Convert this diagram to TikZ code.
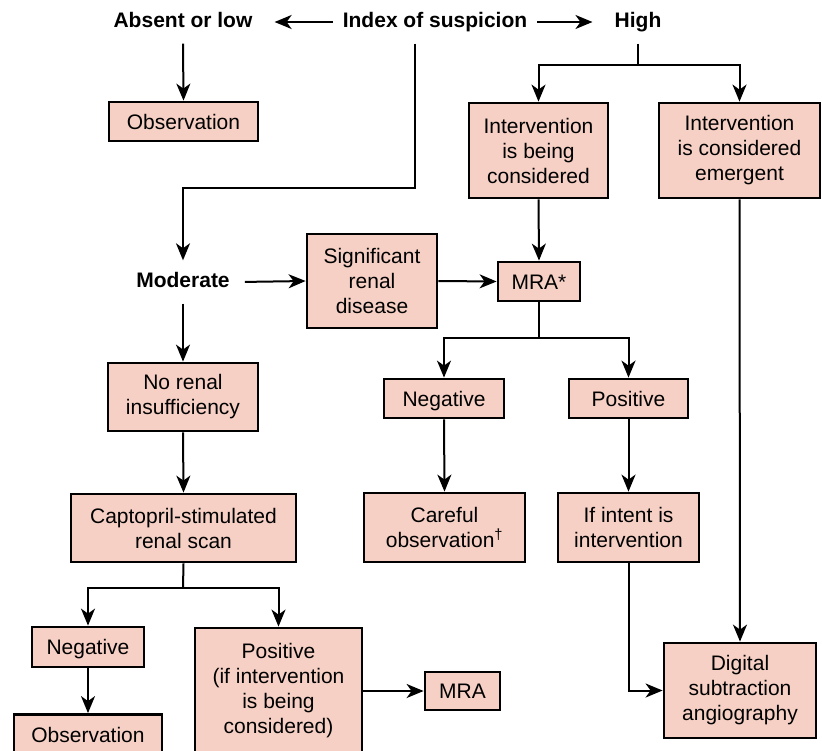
\documentclass[tikz,border=0pt]{standalone}
\usepackage{fontspec}
\setmainfont{Liberation Sans}
\usetikzlibrary{arrows.meta}
\definecolor{boxpink}{RGB}{246,208,196}

\begin{document}
\begin{tikzpicture}[
    x=1pt, y=-1pt,
    every node/.style={font=\fontsize{21}{25}\selectfont},
    box/.style={draw, line width=2.8pt, fill=boxpink, align=center, inner sep=0pt},
    oneline/.style={text height=15pt, text depth=0pt},
    lbl/.style={font=\fontsize{21}{25}\selectfont\bfseries,
        inner xsep=10pt, inner ysep=12pt, text height=15pt, text depth=4pt},
    link/.style={line width=2pt},
    arrow/.style={line width=2pt, -{Stealth[length=17pt,width=14pt,inset=5pt]}}
]

    \useasboundingbox (0,0) rectangle (822,750);

    % Index of suspicion
    \node[lbl] (index) at (435,22) {Index of suspicion};
    \node[lbl] (absent) at (183,22) {Absent or low};
    \node[lbl] (high) at (638,22) {High};
    \node[lbl] (moderate) at (183,282) {Moderate};

    % Absent or low
    \node[box, oneline, minimum width=149, minimum height=39] (obsA) at (183.5,121.5)
        {Observation};

    % High
    \node[box, minimum width=139, minimum height=95] (consid) at (538.5,150.5)
        {Intervention\\is being\\considered};
    \node[box, minimum width=161, minimum height=95] (emerg) at (739.5,150.5)
        {Intervention\\is considered\\emergent};

    % Moderate
    \node[box, minimum width=130, minimum height=94] (signif) at (372,281)
        {Significant\\renal\\disease};
    \node[box, oneline, minimum width=82, minimum height=39] (mraA) at (539,281.5)
        {MRA*};
    \node[box, oneline, minimum width=120, minimum height=39] (negA) at (444,398.5)
        {Negative};
    \node[box, oneline, minimum width=119, minimum height=39] (posA) at (628.5,398.5)
        {Positive};
    \node[box, minimum width=161, minimum height=69] (careful) at (444.5,527.5)
        {Careful\\observation\textsuperscript{\textdagger}};
    \node[box, minimum width=141, minimum height=69] (intent) at (628.5,527.5)
        {If intent is\\intervention};
    \node[box, minimum width=152, minimum height=95] (dsa) at (740,690.5)
        {Digital\\subtraction\\angiography};

    % No renal insufficiency
    \node[box, minimum width=150, minimum height=68] (norenal) at (183,397)
        {No renal\\insufficiency};
    \node[box, minimum width=225, minimum height=68] (scan) at (183.5,528)
        {Captopril-stimulated\\renal scan};
    \node[box, oneline, minimum width=112, minimum height=40] (negB) at (88,647)
        {Negative};
    \node[box, oneline, minimum width=148, minimum height=40] (obsB) at (88,734.5)
        {Observation};
    \node[box, minimum width=167, minimum height=126] (posB) at (278.5,691)
        {Positive\\(if intervention\\is being\\considered)};
    \node[box, oneline, minimum width=75, minimum height=38] (mraB) at (462.5,691)
        {MRA};

    % split points
    \coordinate (bend) at (415,188);
    \coordinate (hsplit) at (638,65);
    \coordinate (msplit) at (539,338);
    \coordinate (ssplit) at (183,588);

    % arrows from the index
    \draw[arrow, shorten >=12pt] (index.west) -- (absent.east);
    \draw[arrow, shorten >=12pt] (index.east) -- (high.west);
    \draw[arrow] (absent.south) -- (obsA.north);
    \draw[arrow] (index.south -| bend) -- (bend) -| (moderate.north);
    \draw[link] (high.south) -- (hsplit);
    \draw[arrow] (hsplit) -| (consid.north);
    \draw[arrow] (hsplit) -| (emerg.north);

    % right branch
    \draw[arrow] (consid.south) -- (mraA.north);
    \draw[arrow] (emerg.south) -- (dsa.north);
    \draw[arrow, shorten <=5pt] (moderate.east) -- (signif.west);
    \draw[arrow] (signif.east) -- (mraA.west);
    \draw[link] (mraA.south) -- (msplit);
    \draw[arrow] (msplit) -| (negA.north);
    \draw[arrow] (msplit) -| (posA.north);
    \draw[arrow] (negA.south) -- (careful.north);
    \draw[arrow] (posA.south) -- (intent.north);
    \draw[arrow] (intent.south) |- (dsa.west);

    % left branch
    \draw[arrow] (moderate.south) -- (norenal.north);
    \draw[arrow] (norenal.south) -- (scan.north);
    \draw[link] (scan.south) -- (ssplit);
    \draw[arrow] (ssplit) -| (negB.north);
    \draw[arrow] (ssplit) -| (posB.north);
    \draw[arrow] (negB.south) -- (obsB.north);
    \draw[arrow] (posB.east) -- (mraB.west);

\end{tikzpicture}
\end{document}
